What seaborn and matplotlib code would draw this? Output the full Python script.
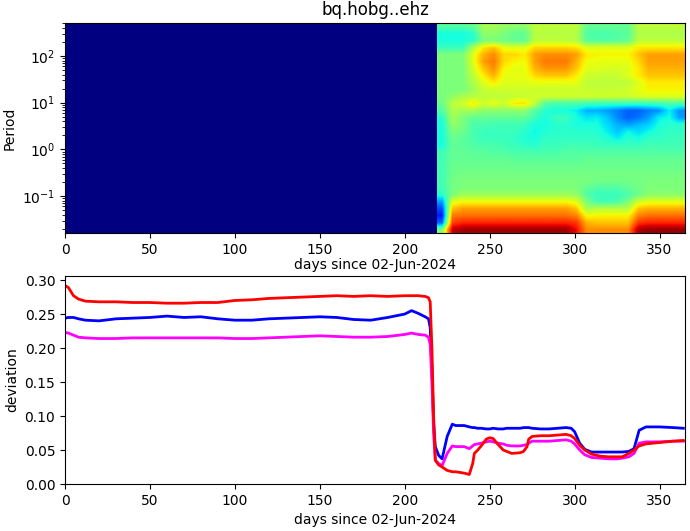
import numpy as np
import pandas as pd
import seaborn as sns
import matplotlib.pyplot as plt
from matplotlib.ticker import FixedLocator, NullFormatter

# deviation curves
days = [0, 2, 5, 8, 12, 20, 30, 40, 50, 60, 70, 80, 90, 100, 110, 120, 130, 140, 150, 160, 170, 180, 190, 200, 204,
        208, 212, 214, 215, 216, 217, 218, 220, 222, 225, 228, 230, 235, 238, 240, 241, 243, 245, 248, 250, 252, 255,
        258, 260, 263, 268, 270, 272, 273, 275, 280, 285, 290, 295, 298, 300, 303, 306, 310, 315, 320, 325, 328, 332,
        335, 338, 342, 350, 358, 364]
dev_blue = [0.244, 0.245, 0.245, 0.243, 0.241, 0.240, 0.243, 0.244, 0.245, 0.247, 0.245, 0.246, 0.243, 0.241, 0.241,
            0.243, 0.244, 0.245, 0.246, 0.245, 0.242, 0.241, 0.245, 0.250, 0.255, 0.251, 0.246, 0.243, 0.230, 0.170,
            0.090, 0.055, 0.042, 0.037, 0.070, 0.088, 0.086, 0.086, 0.084, 0.083, 0.083, 0.082, 0.082, 0.081, 0.081,
            0.082, 0.081, 0.081, 0.082, 0.082, 0.082, 0.083, 0.083, 0.083, 0.082, 0.081, 0.081, 0.082, 0.083, 0.082,
            0.077, 0.060, 0.051, 0.047, 0.047, 0.047, 0.047, 0.047, 0.048, 0.052, 0.079, 0.084, 0.084, 0.083, 0.082]
dev_magenta = [0.223, 0.222, 0.219, 0.216, 0.215, 0.214, 0.214, 0.215, 0.215, 0.215, 0.215, 0.215, 0.215, 0.214, 0.214,
               0.215, 0.216, 0.217, 0.218, 0.217, 0.216, 0.216, 0.217, 0.220, 0.222, 0.220, 0.219, 0.216, 0.205, 0.150,
               0.075, 0.035, 0.030, 0.027, 0.045, 0.056, 0.055, 0.055, 0.052, 0.056, 0.058, 0.059, 0.060, 0.062, 0.063,
               0.062, 0.060, 0.059, 0.057, 0.056, 0.056, 0.057, 0.058, 0.060, 0.063, 0.063, 0.063, 0.064, 0.065, 0.063,
               0.059, 0.050, 0.043, 0.039, 0.038, 0.037, 0.037, 0.038, 0.040, 0.045, 0.060, 0.062, 0.062, 0.063, 0.063]
dev_red = [0.292, 0.289, 0.277, 0.272, 0.269, 0.268, 0.268, 0.267, 0.267, 0.266, 0.266, 0.267, 0.267, 0.270, 0.271,
           0.273, 0.274, 0.275, 0.276, 0.277, 0.276, 0.277, 0.276, 0.277, 0.277, 0.277, 0.276, 0.274, 0.268, 0.200,
           0.100, 0.035, 0.028, 0.025, 0.020, 0.018, 0.018, 0.016, 0.014, 0.030, 0.045, 0.050, 0.056, 0.066, 0.068,
           0.067, 0.058, 0.050, 0.048, 0.045, 0.046, 0.048, 0.055, 0.066, 0.070, 0.071, 0.071, 0.072, 0.073, 0.071,
           0.067, 0.057, 0.050, 0.044, 0.041, 0.040, 0.040, 0.040, 0.045, 0.050, 0.056, 0.059, 0.061, 0.063, 0.064]

# spectrogram colours (0-1 on jet), top row = longest period, columns after the station came on
quiet_columns = 36
spec_rows = [
    [.45, .45, .45, .47, .55, .55, .53, .52, .52, .58, .58, .58, .58, .58, .47, .47, .47, .47, .47, .58, .58, .58, .58, .58],
    [.38, .38, .38, .40, .52, .52, .50, .47, .47, .57, .57, .57, .57, .57, .45, .44, .44, .45, .46, .56, .56, .56, .56, .56],
    [.38, .38, .38, .40, .50, .50, .49, .47, .47, .58, .58, .58, .58, .57, .46, .45, .45, .46, .47, .58, .58, .58, .58, .58],
    [.42, .42, .42, .56, .66, .70, .63, .62, .62, .68, .68, .68, .68, .67, .62, .62, .62, .62, .62, .66, .66, .66, .66, .66],
    [.50, .50, .50, .62, .72, .76, .68, .68, .66, .74, .76, .76, .76, .74, .66, .65, .65, .65, .65, .70, .74, .74, .74, .74],
    [.50, .50, .50, .62, .74, .78, .68, .65, .64, .74, .78, .78, .78, .72, .64, .63, .63, .63, .63, .68, .74, .74, .74, .74],
    [.50, .50, .50, .60, .70, .76, .65, .63, .63, .72, .75, .75, .75, .70, .62, .62, .61, .61, .62, .66, .72, .72, .72, .72],
    [.50, .50, .50, .58, .66, .72, .63, .63, .63, .68, .70, .70, .70, .66, .60, .59, .59, .59, .62, .66, .70, .70, .70, .70],
    [.50, .50, .50, .56, .62, .66, .62, .62, .62, .63, .63, .63, .63, .63, .58, .58, .58, .58, .58, .62, .66, .66, .66, .66],
    [.50, .50, .50, .54, .59, .60, .60, .60, .60, .60, .60, .60, .60, .60, .59, .59, .59, .59, .60, .63, .65, .65, .65, .65],
    [.50, .52, .56, .57, .58, .58, .58, .59, .59, .60, .60, .60, .60, .60, .60, .60, .60, .60, .60, .61, .62, .62, .62, .62],
    [.48, .58, .60, .66, .60, .63, .60, .66, .67, .58, .45, .44, .44, .44, .43, .42, .42, .42, .42, .42, .42, .43, .44, .44],
    [.45, .56, .55, .55, .52, .52, .52, .52, .52, .45, .40, .38, .38, .36, .30, .30, .28, .25, .22, .22, .25, .27, .36, .27],
    [.40, .55, .50, .47, .47, .47, .47, .47, .47, .42, .38, .42, .42, .38, .35, .36, .32, .26, .22, .24, .28, .36, .38, .28],
    [.38, .53, .50, .44, .44, .43, .43, .43, .42, .38, .38, .40, .40, .38, .38, .38, .34, .30, .28, .31, .33, .38, .40, .40],
    [.38, .50, .48, .44, .42, .42, .42, .42, .40, .37, .39, .40, .40, .40, .40, .39, .36, .32, .37, .34, .37, .40, .41, .41],
    [.38, .48, .46, .44, .42, .42, .42, .41, .39, .38, .41, .41, .41, .41, .41, .41, .39, .36, .40, .38, .41, .41, .42, .42],
    [.38, .47, .46, .45, .44, .44, .43, .42, .41, .40, .42, .42, .43, .43, .43, .42, .42, .42, .42, .42, .43, .43, .43, .43],
    [.43, .47, .47, .46, .46, .45, .45, .44, .44, .44, .44, .44, .45, .45, .45, .45, .45, .45, .45, .45, .45, .45, .45, .45],
    [.43, .47, .47, .47, .47, .47, .47, .46, .46, .46, .46, .46, .46, .46, .47, .47, .47, .47, .47, .47, .47, .47, .47, .47],
    [.43, .48, .48, .48, .48, .48, .48, .48, .48, .48, .48, .48, .48, .48, .48, .48, .48, .48, .48, .48, .48, .48, .48, .48],
    [.43, .48, .49, .49, .49, .49, .49, .49, .49, .49, .49, .49, .49, .49, .49, .49, .49, .49, .49, .49, .49, .49, .49, .49],
    [.43, .49, .50, .50, .50, .50, .50, .50, .50, .50, .50, .50, .50, .50, .50, .49, .49, .49, .49, .49, .50, .50, .50, .50],
    [.43, .49, .50, .50, .50, .50, .50, .50, .50, .50, .50, .50, .50, .50, .47, .45, .45, .45, .47, .49, .50, .50, .50, .50],
    [.40, .50, .54, .54, .54, .54, .54, .54, .54, .54, .54, .54, .54, .53, .45, .42, .42, .42, .44, .48, .52, .52, .52, .52],
    [.28, .62, .64, .64, .64, .64, .64, .64, .64, .64, .64, .64, .64, .62, .50, .43, .43, .44, .50, .60, .62, .62, .62, .62],
    [.20, .70, .74, .74, .74, .74, .74, .74, .74, .74, .74, .74, .74, .70, .55, .57, .57, .57, .57, .70, .72, .72, .72, .72],
    [.15, .78, .79, .79, .79, .79, .79, .79, .79, .79, .79, .79, .79, .77, .64, .65, .65, .65, .65, .77, .79, .79, .79, .79],
    [.22, .84, .87, .87, .87, .87, .87, .87, .87, .87, .87, .87, .87, .85, .72, .70, .70, .70, .70, .85, .87, .87, .87, .87],
    [.50, .94, .97, .97, .97, .97, .97, .97, .97, .97, .97, .97, .97, .90, .76, .76, .76, .76, .76, .96, .98, .98, .98, .98],
]
day_span = 365
period_top = 509.0
period_bottom = 0.0162
period_ticks = [100, 10, 1, 0.1]
period_labels = ['$\\mathdefault{10^{2}}$', '$\\mathdefault{10^{1}}$', '$\\mathdefault{10^{0}}$', '$\\mathdefault{10^{-1}}$']
day_ticks = [0, 50, 100, 150, 200, 250, 300, 350]

spec_active = np.array(spec_rows)
spec = pd.DataFrame(np.hstack([np.zeros((len(spec_rows), quiet_columns)), spec_active]))
curves = pd.DataFrame({'days': days, 'blue': dev_blue, 'magenta': dev_magenta, 'red': dev_red})

fig = plt.figure(figsize=(6.9, 5.31), dpi=100)
ax1 = fig.add_axes([65 / 690, 1 - 233 / 531, 620 / 690, 210 / 531])
ax2 = fig.add_axes([65 / 690, 1 - 484 / 531, 620 / 690, 208 / 531])

sns.heatmap(spec, ax=ax1, cmap='jet', vmin=0, vmax=1, cbar=False, xticklabels=False, yticklabels=False)
for side in ax1.spines.values():
    side.set_visible(True)

ncol = spec.shape[1]
nrow = spec.shape[0]

# same cells again over the active part, smoothed so it doesn't look blocky
ax1.imshow(spec_active, cmap='jet', vmin=0, vmax=1, aspect='auto', interpolation='bilinear',
           extent=(quiet_columns, ncol, nrow, 0), zorder=2)
ax1.set_xlim(0, ncol)
ax1.set_ylim(nrow, 0)


# heatmap cells are in index units, so put the ticks where the days and periods fall
def period_pos(p):
    decades = np.log10(period_top) - np.log10(period_bottom)
    return (np.log10(period_top) - np.log10(p)) / decades * nrow


ax1.set_xticks([d / day_span * ncol for d in day_ticks])
ax1.set_xticklabels([str(d) for d in day_ticks], rotation=0)
ax1.set_yticks([period_pos(p) for p in period_ticks])
ax1.set_yticklabels(period_labels, rotation=0)
minor = [m * 10.0 ** e for e in range(-2, 3) for m in range(2, 10)]
minor = [period_pos(p) for p in minor if period_bottom <= p <= period_top]
ax1.yaxis.set_minor_locator(FixedLocator(minor))
ax1.yaxis.set_minor_formatter(NullFormatter())
ax1.tick_params(axis='both', which='major', length=3.5, width=0.8, labelsize=10)
ax1.tick_params(axis='y', which='minor', length=2, width=0.6)
ax1.set_xlabel('days since 02-Jun-2024', labelpad=1)
ax1.set_ylabel('Period')
ax1.set_title('bq.hobg..ehz')

for name in ['blue', 'magenta', 'red']:
    sns.lineplot(data=curves, x='days', y=name, ax=ax2, color=name, linewidth=2, estimator=None, sort=False)
ax2.set_xlim(0, day_span)
ax2.set_ylim(0, 0.306)
ax2.set_xticks(day_ticks)
ax2.set_xlabel('days since 02-Jun-2024')
ax2.set_ylabel('deviation')

fig.savefig('out.png', dpi=100)
